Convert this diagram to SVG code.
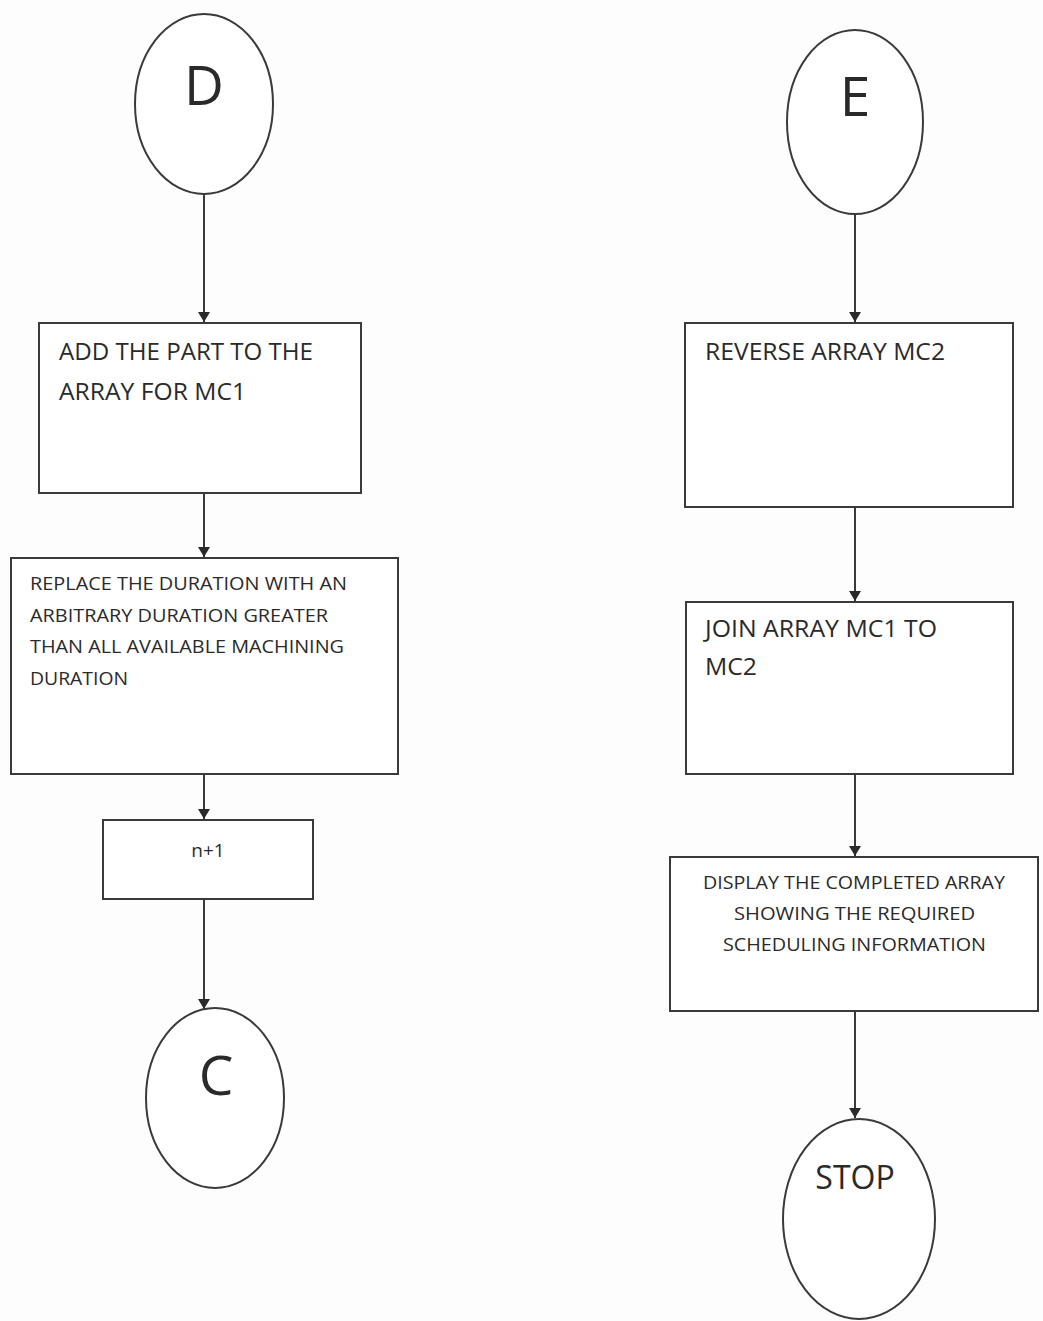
<svg xmlns="http://www.w3.org/2000/svg" width="1043" height="1321" viewBox="0 0 1043 1321">
  <style>
    .shape { fill: #ffffff; stroke: #3a3a3a; stroke-width: 2; }
    .edge { fill: none; stroke: #3a3a3a; stroke-width: 2; }
    .lbl { font-family: "Open Sans", "Liberation Sans", sans-serif; fill: #2a2a2a; }
    .big { font-size: 55px; text-anchor: middle; }
    .stop { font-size: 32px; text-anchor: middle; }
    .t22 { font-size: 24px; }
    .t17 { font-size: 18px; }
  </style>
  <defs>
    <marker id="arrow" viewBox="0 0 10 12" refX="10" refY="6" markerWidth="10" markerHeight="12" markerUnits="userSpaceOnUse" orient="auto">
      <path d="M0,0 L10,6 L0,12 Z" fill="#2a2a2a"/>
    </marker>
  </defs>
  <rect width="1043" height="1321" fill="#fdfdfd"/>

  <g id="connectors">
    <line class="edge" x1="204" y1="194" x2="204" y2="322" marker-end="url(#arrow)"/>
    <line class="edge" x1="204" y1="493" x2="204" y2="557" marker-end="url(#arrow)"/>
    <line class="edge" x1="204" y1="774" x2="204" y2="819" marker-end="url(#arrow)"/>
    <line class="edge" x1="204" y1="899" x2="204" y2="1009" marker-end="url(#arrow)"/>
    <line class="edge" x1="855" y1="214" x2="855" y2="322" marker-end="url(#arrow)"/>
    <line class="edge" x1="855" y1="507" x2="855" y2="601" marker-end="url(#arrow)"/>
    <line class="edge" x1="855" y1="774" x2="855" y2="856" marker-end="url(#arrow)"/>
    <line class="edge" x1="855" y1="1011" x2="855" y2="1118" marker-end="url(#arrow)"/>
  </g>

  <g id="node-d">
    <ellipse class="shape" cx="204" cy="104" rx="69" ry="90"/>
    <text class="lbl big" x="204" y="105">D</text>
  </g>

  <g id="node-add-part">
    <rect class="shape" x="39" y="323" width="322" height="170"/>
    <text class="lbl t22" x="59" y="360" textLength="254" lengthAdjust="spacingAndGlyphs">ADD THE PART TO THE</text>
    <text class="lbl t22" x="59" y="400" textLength="187" lengthAdjust="spacingAndGlyphs">ARRAY FOR MC1</text>
  </g>

  <g id="node-replace">
    <rect class="shape" x="11" y="558" width="387" height="216"/>
    <text class="lbl t17" x="30" y="590" textLength="317" lengthAdjust="spacingAndGlyphs">REPLACE THE DURATION WITH AN</text>
    <text class="lbl t17" x="30" y="622" textLength="298" lengthAdjust="spacingAndGlyphs">ARBITRARY DURATION GREATER</text>
    <text class="lbl t17" x="30" y="653" textLength="314" lengthAdjust="spacingAndGlyphs">THAN ALL AVAILABLE MACHINING</text>
    <text class="lbl t17" x="30" y="685" textLength="98" lengthAdjust="spacingAndGlyphs">DURATION</text>
  </g>

  <g id="node-increment">
    <rect class="shape" x="103" y="820" width="210" height="79"/>
    <text class="lbl" x="208" y="857" text-anchor="middle" font-size="19">n+1</text>
  </g>

  <g id="node-c">
    <ellipse class="shape" cx="215" cy="1098" rx="69" ry="90"/>
    <text class="lbl big" x="216" y="1095">C</text>
  </g>

  <g id="node-e">
    <ellipse class="shape" cx="855" cy="122" rx="68" ry="92"/>
    <text class="lbl big" x="855" y="116">E</text>
  </g>

  <g id="node-reverse">
    <rect class="shape" x="685" y="323" width="328" height="184"/>
    <text class="lbl t22" x="705" y="360" textLength="240" lengthAdjust="spacingAndGlyphs">REVERSE ARRAY MC2</text>
  </g>

  <g id="node-join">
    <rect class="shape" x="686" y="602" width="327" height="172"/>
    <text class="lbl t22" x="705" y="637" textLength="232" lengthAdjust="spacingAndGlyphs">JOIN ARRAY MC1 TO</text>
    <text class="lbl t22" x="705" y="675" textLength="52" lengthAdjust="spacingAndGlyphs">MC2</text>
  </g>

  <g id="node-display">
    <rect class="shape" x="670" y="857" width="368" height="154"/>
    <text class="lbl t17" x="703" y="889" textLength="302" lengthAdjust="spacingAndGlyphs">DISPLAY THE COMPLETED ARRAY</text>
    <text class="lbl t17" x="734" y="920" textLength="241" lengthAdjust="spacingAndGlyphs">SHOWING THE REQUIRED</text>
    <text class="lbl t17" x="723" y="951" textLength="263" lengthAdjust="spacingAndGlyphs">SCHEDULING INFORMATION</text>
  </g>

  <g id="node-stop">
    <ellipse class="shape" cx="859" cy="1219" rx="76" ry="100"/>
    <text class="lbl stop" x="855" y="1189">STOP</text>
  </g>
</svg>
